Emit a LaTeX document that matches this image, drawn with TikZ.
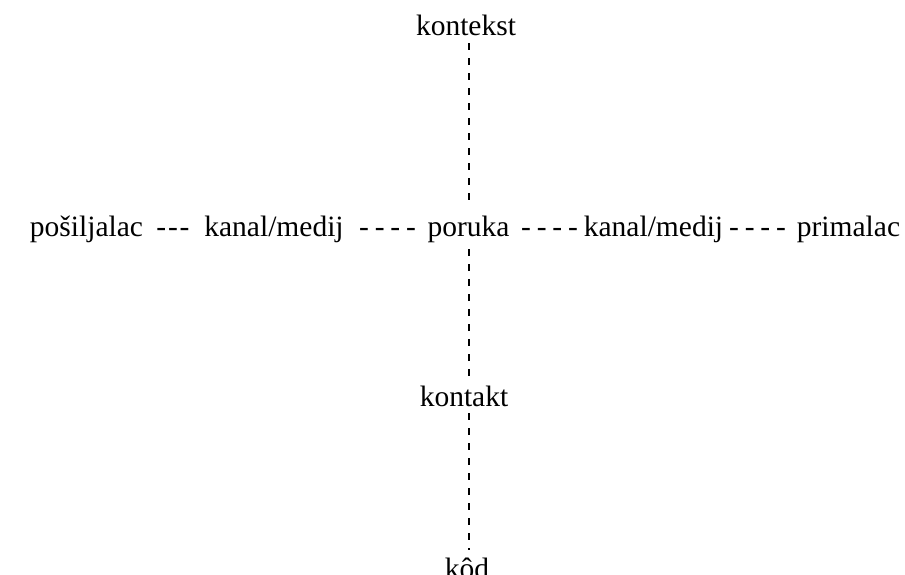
\documentclass[tikz,border=0pt]{standalone}
\usepackage{fontspec}
\setmainfont{Liberation Serif}
\newcommand{\hyA}{-\hspace{1.8pt}-\hspace{1.8pt}-}
\newcommand{\hyB}{-\hspace{5.8pt}-\hspace{5.8pt}-\hspace{5.8pt}-}
\begin{document}
\begin{tikzpicture}[x=1pt,y=-1pt,
  lbl/.style={anchor=base,inner xsep=0pt,inner ysep=7pt,font=\fontsize{29.5}{36}\selectfont},
  vdash/.style={draw=black,line width=2pt,dash pattern=on 7pt off 8pt}]
\useasboundingbox (0,0) rectangle (905,575);
\node[lbl] (kontekst) at (466,36) {kontekst};
\node[lbl] (posiljalac) at (86.5,236) {pošiljalac};
\node[lbl] (d1) at (173,236) {\hyA};
\node[lbl] (kanal1) at (274,236) {kanal/medij};
\node[lbl] (d2) at (387.5,236) {\hyB};
\node[lbl] (poruka) at (468.5,236) {poruka};
\node[lbl] (d3) at (549.5,236) {\hyB};
\node[lbl] (kanal2) at (653.5,236) {kanal/medij};
\node[lbl] (d4) at (757.5,236) {\hyB};
\node[lbl] (primalac) at (848.5,236) {primalac};
\node[lbl] (kontakt) at (464,406) {kontakt};
\node[lbl] (kod) at (467,578) {kôd};
\draw[vdash] ([xshift=0.5pt]poruka.north |- kontekst.south) -- ([xshift=0.5pt]poruka.north);
\draw[vdash] ([xshift=0.5pt]poruka.south) -- ([xshift=0.5pt]poruka.south |- kontakt.north);
\draw[vdash] ([xshift=0.5pt]poruka.south |- kontakt.south) -- ([xshift=0.5pt]poruka.south |- kod.north);
\end{tikzpicture}
\end{document}
